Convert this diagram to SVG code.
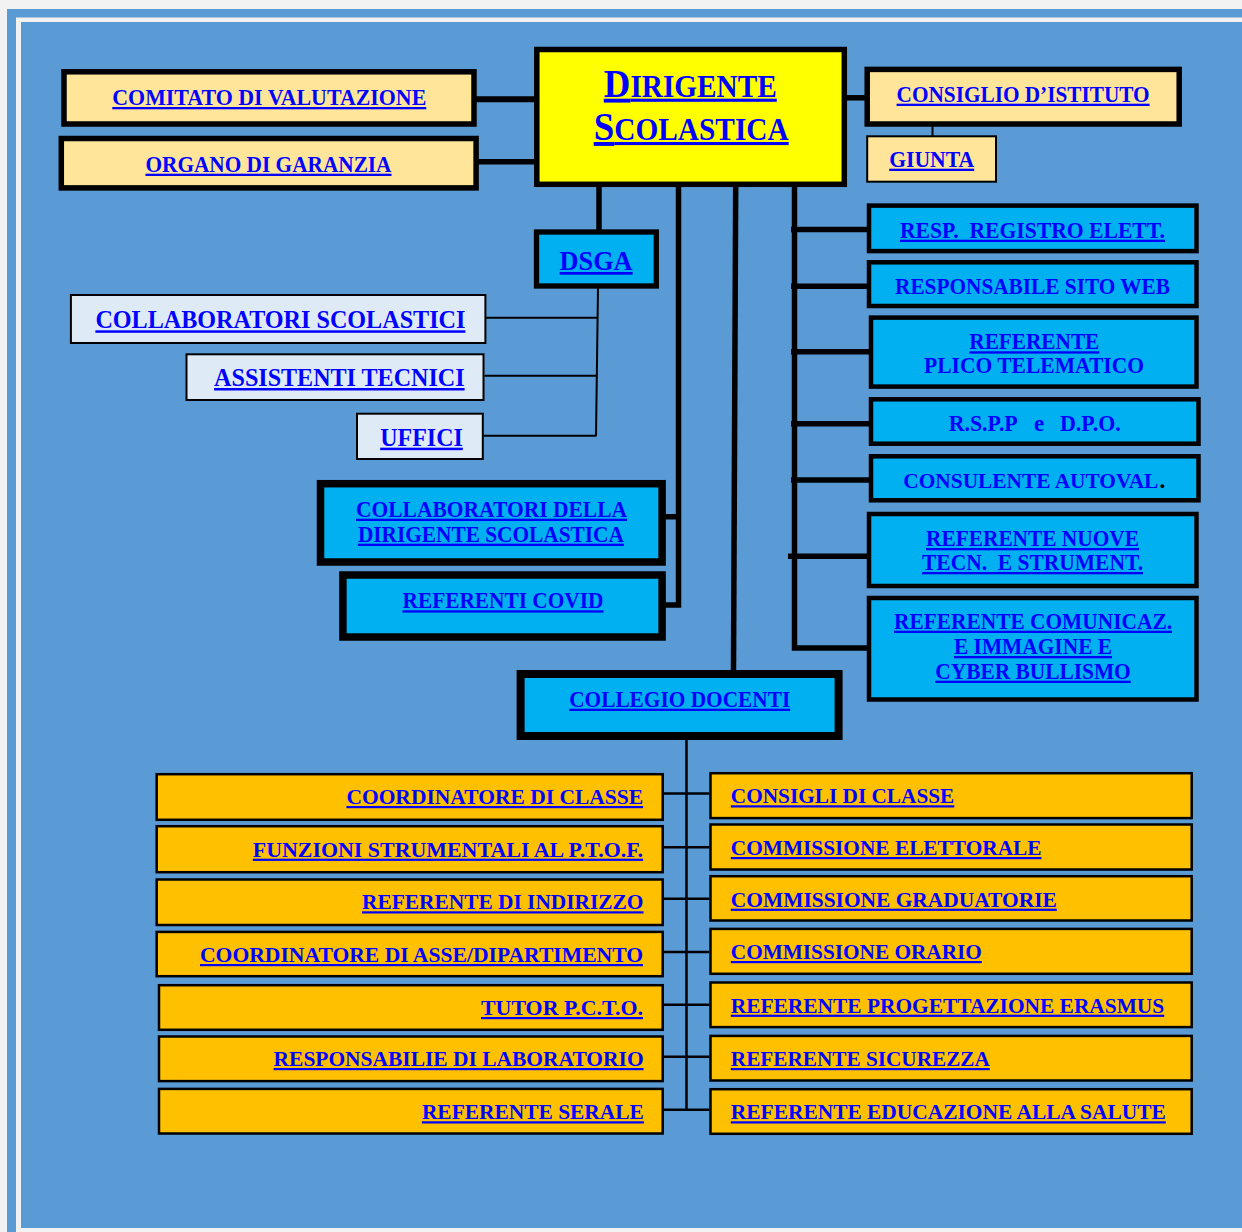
<svg xmlns="http://www.w3.org/2000/svg" width="1242" height="1232" viewBox="0 0 1242 1232">
<style>
.t{font-family:'Liberation Serif','Times New Roman',serif;font-weight:bold;fill:#0000ff;font-size:23px}
.u{text-decoration:underline}
.b{font-size:22px}
.thick{stroke:#000;stroke-width:5.5;fill:none}
.thin{stroke:#000;stroke-width:2;fill:none}
.peach{fill:#ffe599;stroke:#000;stroke-width:5.5}
.cyan{fill:#00b0f0;stroke:#000;stroke-width:4.5}
.cyan8{fill:#00b0f0;stroke:#000;stroke-width:7.5}
.light{fill:#deebf7;stroke:#000;stroke-width:2}
.org{fill:#ffc000;stroke:#000;stroke-width:2.5}
</style>
<rect x="0" y="0" width="1242" height="1232" fill="#f2f2f2"/>
<rect x="7" y="9" width="9" height="1223" fill="#5b9bd5"/>
<rect x="7" y="9" width="1235" height="8.5" fill="#5b9bd5"/>
<rect x="21" y="22" width="1221" height="1206" fill="#5b9bd5"/>

<g id="connectors">
<line class="thick" x1="476" y1="99.3" x2="538" y2="99.3" style="stroke-width:6"/>
<line class="thick" x1="478" y1="161.7" x2="538" y2="161.7"/>
<line class="thick" x1="844" y1="97.8" x2="867" y2="97.8"/>
<line class="thin" x1="932.5" y1="126" x2="932.5" y2="136"/>
<line class="thick" x1="599" y1="185" x2="599" y2="231"/>
<path class="thick" d="M678.5,185 V605 H662 M662,516.7 H681"/>
<line class="thick" x1="735.7" y1="185" x2="733.5" y2="672"/>
<path class="thick" d="M794.5,185 V648 H869 M791,229.5 H869 M791,286.3 H869 M791,351.8 H871 M791,423.7 H871 M791,480 H871 M788,556.2 H869"/>
<path class="thin" d="M598,288 L596,435.7 M486,317.7 H598 M484.5,375.7 H597 M483.5,435.7 H596.5"/>
<path class="thin" style="stroke-width:2.5" d="M686.5,740 V1109.7 M663.5,793.5 H709.5 M663.5,847.3 H709.5 M663.5,898.7 H709.5 M663.5,952 H709.5 M663.5,1004.7 H709.5 M663.5,1056.7 H709.5 M663.5,1109.7 H709.5"/>
</g>

<g id="comitato">
<rect class="peach" x="64" y="71.8" width="410" height="52.2"/>
<text class="t u" x="112.3" y="105" textLength="314" lengthAdjust="spacingAndGlyphs">COMITATO DI VALUTAZIONE</text>
</g>
<g id="organo">
<rect class="peach" x="61.3" y="138.5" width="414.8" height="49.4"/>
<text class="t u" x="145.5" y="171.7" textLength="246" lengthAdjust="spacingAndGlyphs">ORGANO DI GARANZIA</text>
</g>
<g id="dirigente">
<rect x="536.8" y="49.5" width="307.5" height="134.8" fill="#ffff00" stroke="#000" stroke-width="5.5"/>
<text class="t u" x="603.8" y="96.7" style="font-size:31px" textLength="173" lengthAdjust="spacingAndGlyphs"><tspan style="font-size:39px">D</tspan>IRIGENTE</text>
<text class="t u" x="593.7" y="140" style="font-size:31px" textLength="195" lengthAdjust="spacingAndGlyphs"><tspan style="font-size:39px">S</tspan>COLASTICA</text>
</g>
<g id="consiglio">
<rect class="peach" x="867.2" y="69.4" width="312" height="54.6"/>
<text class="t u" x="896.6" y="101.7" textLength="253" lengthAdjust="spacingAndGlyphs">CONSIGLIO D’ISTITUTO</text>
</g>
<g id="giunta">
<rect x="867.2" y="136.3" width="128.8" height="45.4" fill="#ffe599" stroke="#000" stroke-width="2"/>
<text class="t u" x="889.2" y="166.7" textLength="85" lengthAdjust="spacingAndGlyphs">GIUNTA</text>
</g>
<g id="dsga">
<rect x="536.5" y="232" width="119.8" height="54" fill="#00b0f0" stroke="#000" stroke-width="5.3"/>
<text class="t u" x="559.6" y="270" style="font-size:27px" textLength="73" lengthAdjust="spacingAndGlyphs">DSGA</text>
</g>
<g id="collab-scol">
<rect class="light" x="70.9" y="295" width="414.5" height="48"/>
<text class="t u" x="95.4" y="328.3" style="font-size:25px" textLength="370" lengthAdjust="spacingAndGlyphs">COLLABORATORI SCOLASTICI</text>
</g>
<g id="assistenti">
<rect class="light" x="186.5" y="354.3" width="297" height="45.7"/>
<text class="t u" x="214.1" y="386" style="font-size:25px" textLength="250.5" lengthAdjust="spacingAndGlyphs">ASSISTENTI TECNICI</text>
</g>
<g id="uffici">
<rect class="light" x="357" y="413.7" width="125.8" height="45.3"/>
<text class="t u" x="380.2" y="445.7" style="font-size:25px" textLength="82.6" lengthAdjust="spacingAndGlyphs">UFFICI</text>
</g>
<g id="collab-dirigente">
<rect class="cyan8" x="320.5" y="483.7" width="341.6" height="78.3"/>
<text class="t u" x="356" y="516.7" textLength="271" lengthAdjust="spacingAndGlyphs">COLLABORATORI DELLA</text>
<text class="t u" x="357.9" y="541.7" textLength="266" lengthAdjust="spacingAndGlyphs">DIRIGENTE SCOLASTICA</text>
</g>
<g id="covid">
<rect class="cyan8" x="342.9" y="575" width="319.2" height="62"/>
<text class="t u" x="402.5" y="608.3" textLength="201" lengthAdjust="spacingAndGlyphs">REFERENTI COVID</text>
</g>
<g id="collegio">
<rect x="520.6" y="674" width="318" height="62" fill="#00b0f0" stroke="#000" stroke-width="8"/>
<text class="t u" x="569.2" y="706.7" textLength="221" lengthAdjust="spacingAndGlyphs">COLLEGIO DOCENTI</text>
</g>

<g id="resp-registro">
<rect class="cyan" x="869" y="205.6" width="327.5" height="45.5"/>
<text class="t u" x="900" y="237.7" textLength="265" lengthAdjust="spacingAndGlyphs" xml:space="preserve">RESP.  REGISTRO ELETT.</text>
</g>
<g id="sito-web">
<rect class="cyan" x="869" y="262.3" width="327.5" height="43.7"/>
<text class="t" x="895" y="294" textLength="275" lengthAdjust="spacingAndGlyphs">RESPONSABILE SITO WEB</text>
</g>
<g id="plico">
<rect class="cyan" x="871" y="317.6" width="325.5" height="69"/>
<text class="t u" x="969.3" y="349.3" textLength="130" lengthAdjust="spacingAndGlyphs">REFERENTE</text>
<text class="t" x="924" y="372.7" textLength="220" lengthAdjust="spacingAndGlyphs">PLICO TELEMATICO</text>
</g>
<g id="rspp">
<rect class="cyan" x="871" y="399.3" width="327.5" height="44.4"/>
<text class="t" x="948.7" y="430.7" textLength="69" lengthAdjust="spacingAndGlyphs">R.S.P.P</text>
<text class="t" x="1034" y="430.7">e</text>
<text class="t" x="1060" y="430.7" textLength="60.7" lengthAdjust="spacingAndGlyphs">D.P.O.</text>
</g>
<g id="consulente">
<rect class="cyan" x="871" y="456.3" width="327.5" height="44"/>
<text class="t" x="903.3" y="487.7" style="font-size:21px" textLength="255" lengthAdjust="spacingAndGlyphs">CONSULENTE AUTOVAL</text>
<text class="t" x="1159.5" y="487.7" style="fill:#000">.</text>
</g>
<g id="nuove-tecn">
<rect class="cyan" x="869" y="514" width="327.5" height="72"/>
<text class="t u" x="926" y="546" textLength="213" lengthAdjust="spacingAndGlyphs">REFERENTE NUOVE</text>
<text class="t u" x="922" y="570" textLength="221" lengthAdjust="spacingAndGlyphs" xml:space="preserve">TECN.  E STRUMENT.</text>
</g>
<g id="comunicaz">
<rect class="cyan" x="869" y="598" width="327.5" height="101.5"/>
<text class="t u" x="894" y="628.7" textLength="278" lengthAdjust="spacingAndGlyphs">REFERENTE COMUNICAZ.</text>
<text class="t u" x="954" y="654" textLength="158" lengthAdjust="spacingAndGlyphs">E IMMAGINE E</text>
<text class="t u" x="935.3" y="678.7" textLength="195.4" lengthAdjust="spacingAndGlyphs">CYBER BULLISMO</text>
</g>

<g id="coord-classe">
<rect class="org" x="156.7" y="774.2" width="506" height="45.6"/>
<text class="t u b" x="346.4" y="804" textLength="296.7" lengthAdjust="spacingAndGlyphs">COORDINATORE DI CLASSE</text>
</g>
<g id="funzioni">
<rect class="org" x="156.7" y="826.2" width="506" height="46"/>
<text class="t u b" x="252.8" y="856.7" textLength="390.3" lengthAdjust="spacingAndGlyphs">FUNZIONI STRUMENTALI AL P.T.O.F.</text>
</g>
<g id="ref-indirizzo">
<rect class="org" x="156.7" y="879.5" width="506" height="45.5"/>
<text class="t u b" x="362" y="909.3" textLength="281.5" lengthAdjust="spacingAndGlyphs">REFERENTE DI INDIRIZZO</text>
</g>
<g id="coord-asse">
<rect class="org" x="156.7" y="931.9" width="506" height="44.3"/>
<text class="t u b" x="200" y="962" textLength="443" lengthAdjust="spacingAndGlyphs">COORDINATORE DI ASSE/DIPARTIMENTO</text>
</g>
<g id="tutor">
<rect class="org" x="159" y="985.2" width="503.7" height="44.6"/>
<text class="t u b" x="481" y="1015" textLength="162" lengthAdjust="spacingAndGlyphs">TUTOR P.C.T.O.</text>
</g>
<g id="resp-lab">
<rect class="org" x="159" y="1036.5" width="503.7" height="44.6"/>
<text class="t u b" x="273.6" y="1066" textLength="370" lengthAdjust="spacingAndGlyphs">RESPONSABILIE DI LABORATORIO</text>
</g>
<g id="ref-serale">
<rect class="org" x="159" y="1088.9" width="503.7" height="44.6"/>
<text class="t u b" x="421.9" y="1119.3" textLength="222" lengthAdjust="spacingAndGlyphs">REFERENTE SERALE</text>
</g>

<g id="consigli-classe">
<rect class="org" x="710.5" y="773.2" width="481.2" height="44.9"/>
<text class="t u b" x="730.8" y="803.3" textLength="223.5" lengthAdjust="spacingAndGlyphs">CONSIGLI DI CLASSE</text>
</g>
<g id="comm-elettorale">
<rect class="org" x="710.5" y="824.5" width="481.2" height="45"/>
<text class="t u b" x="730.8" y="855" textLength="310.7" lengthAdjust="spacingAndGlyphs">COMMISSIONE ELETTORALE</text>
</g>
<g id="comm-graduatorie">
<rect class="org" x="710.5" y="876.2" width="481.2" height="44.3"/>
<text class="t u b" x="730.8" y="906.7" textLength="326" lengthAdjust="spacingAndGlyphs">COMMISSIONE GRADUATORIE</text>
</g>
<g id="comm-orario">
<rect class="org" x="710.5" y="928.9" width="481.2" height="44.9"/>
<text class="t u b" x="730.8" y="959" textLength="251" lengthAdjust="spacingAndGlyphs">COMMISSIONE ORARIO</text>
</g>
<g id="erasmus">
<rect class="org" x="710.5" y="982.5" width="481.2" height="44.6"/>
<text class="t u b" x="730.8" y="1012.7" textLength="433.4" lengthAdjust="spacingAndGlyphs">REFERENTE PROGETTAZIONE ERASMUS</text>
</g>
<g id="sicurezza">
<rect class="org" x="710.5" y="1035.9" width="481.2" height="44.6"/>
<text class="t u b" x="730.8" y="1066" textLength="259" lengthAdjust="spacingAndGlyphs">REFERENTE SICUREZZA</text>
</g>
<g id="ed-salute">
<rect class="org" x="710.5" y="1089.2" width="481.2" height="44.6"/>
<text class="t u b" x="730.8" y="1119.3" textLength="435" lengthAdjust="spacingAndGlyphs">REFERENTE EDUCAZIONE ALLA SALUTE</text>
</g>
</svg>
